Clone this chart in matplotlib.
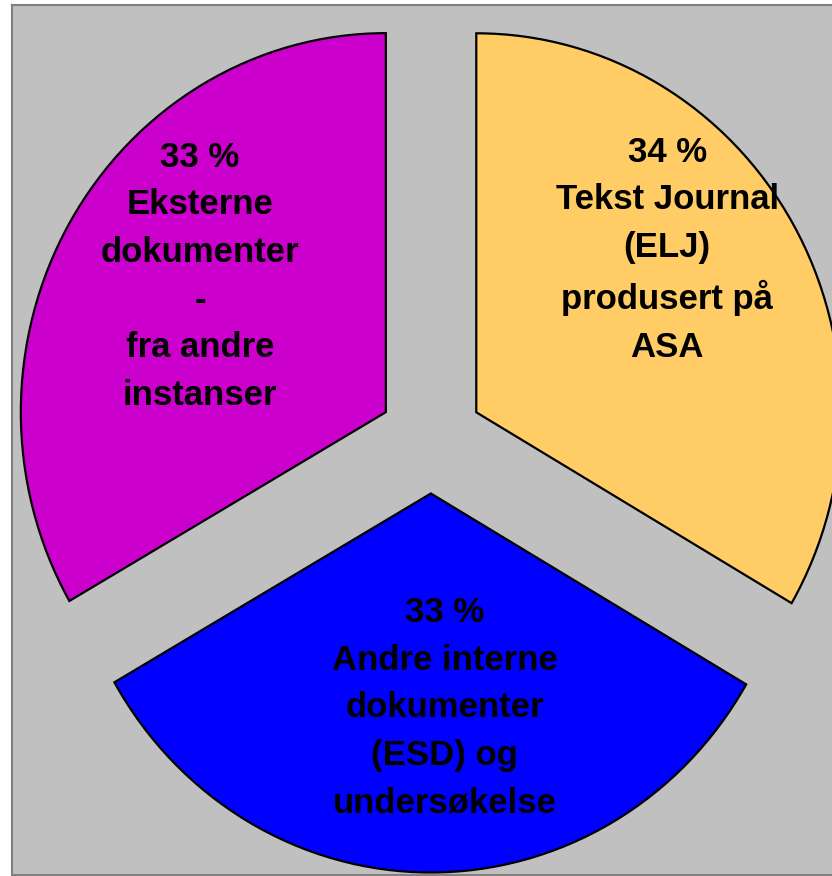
import matplotlib
matplotlib.use("Agg")
import matplotlib.pyplot as plt

# slices in drawing order: clockwise from 12 o'clock
names = ["Tekst Journal\n(ELJ)\nprodusert på\nASA",
         "Andre interne\ndokumenter\n(ESD) og\nundersøkelse",
         "Eksterne\ndokumenter\n-\nfra andre\ninstanser"]
pct_labels = ["34 %", "33 %", "33 %"]
shares = [33.4, 33.3, 33.3]
colors = ["#FFCC66", "#0000FF", "#CC00CC"]

# where each label block sits (data coords)
label_pos = [(0.647, 0.50), (0.038, -0.708), (-0.633, 0.43)]

fig = plt.figure(figsize=(8.32, 8.76), dpi=100)
ax = fig.add_axes([12 / 832, 1 / 876, 828 / 832, 870 / 876])
ax.set_facecolor("#C0C0C0")

ax.pie(shares, colors=colors, startangle=90, counterclock=False,
       explode=[0.143] * 3, radius=1.0,
       wedgeprops=dict(edgecolor="black", linewidth=1.6))

for name, pct, (x, y) in zip(names, pct_labels, label_pos):
    ax.text(x, y, pct + "\n" + name, ha="center", va="center",
            fontsize=25, fontweight="bold", family="Liberation Sans",
            linespacing=1.56, color="black")

ax.set_aspect("auto")
ax.set_xlim(-1.148, 1.1205)
ax.set_ylim(-1.1496, 1.1459)
ax.set_frame_on(True)
ax.set_xticks([])
ax.set_yticks([])
for s in ax.spines.values():
    s.set_color("#808080")
    s.set_linewidth(1.5)

fig.savefig("out.png", dpi=100, facecolor="white")
